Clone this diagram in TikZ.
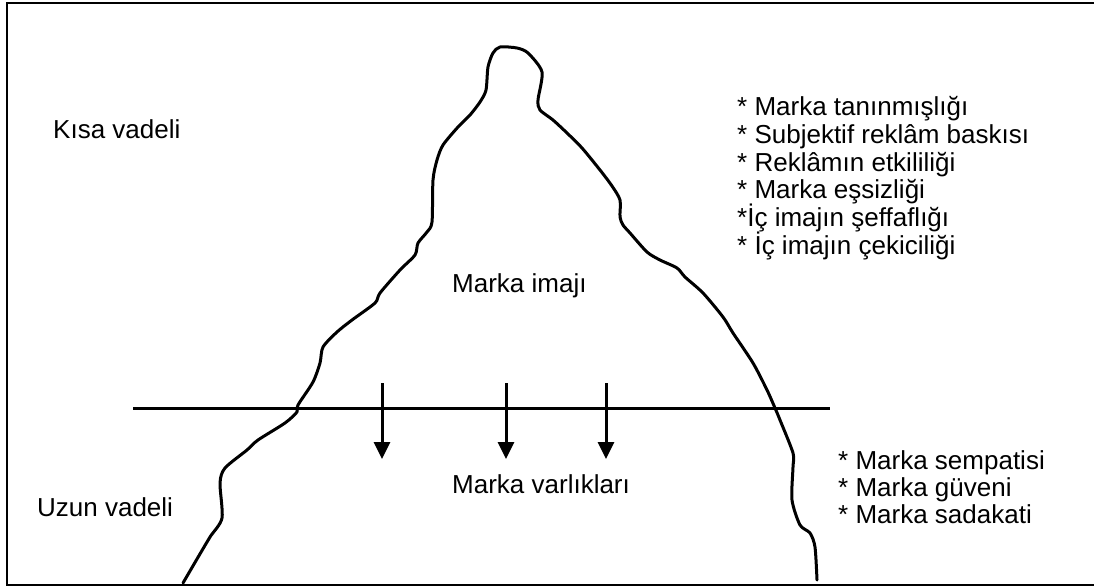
\documentclass[tikz,border=0pt]{standalone}
\usepackage{fontspec}
\setmainfont{Liberation Sans}
\usetikzlibrary{arrows.meta}
\begin{document}
\begin{tikzpicture}[x=1pt,y=-1pt,
  lbl/.style={anchor=base west,inner sep=0pt,font=\fontsize{26}{28}\selectfont},
  ice/.style={line width=3pt,line join=round,line cap=round},
  sink/.style={line width=3pt,-{Triangle[width=16pt,length=17pt]}}]
\useasboundingbox (0,0) rectangle (1094,587);
\draw[line width=2.2pt] (7,3) rectangle (1110,585);
% iceberg
\draw[ice] plot[smooth,tension=0.45] coordinates {
(183,583) (197,559) (210,537) (222,518) (220,483) (225,468) (247,450) (258,440)
(285,423) (297,412) (298,405) (313,382) (320,363) (323,347) (337,332) (352,320)
(375,303) (380,293) (400,270) (415,255) (418,243) (427,232) (432,222) (433,180)
(437,160) (443,145) (458,127) (470,115) (480,102) (486,90) (488,67) (493,53)
(500,47) (517,48) (528,53) (542,72) (538,100) (540,110) (553,120) (567,133)
(582,148) (600,170) (612,186) (620,200) (620,217) (623,225) (630,233) (647,252)
(660,260) (677,268) (685,277) (703,293) (723,317) (733,333) (753,363) (767,390)
(775,408) (780,420) (793,453) (793,467) (792,500) (800,525) (810,533) (815,547)
(817,580)};
% water line
\coordinate (wl) at (133,408);
\coordinate (wr) at (830,408);
\draw[line width=3pt] (wl) -- (wr);
% arrows
\coordinate (a1) at (382,383); \coordinate (b1) at (382,459);
\coordinate (a2) at (506,383); \coordinate (b2) at (506,459);
\coordinate (a3) at (606,383); \coordinate (b3) at (606,459);
\draw[sink] (a1) -- (b1);
\draw[sink] (a2) -- (b2);
\draw[sink] (a3) -- (b3);
% labels
\node[lbl] (kisa) at (53,138) {Kısa vadeli};
\node[lbl] (uzun) at (37,516) {Uzun vadeli};
\node[lbl] (imaj) at (452,292) {Marka imajı};
\node[lbl] (varlik) at (452,493) {Marka varlıkları};
\node[lbl] (t1) at (737,115) {* Marka tanınmışlığı};
\node[lbl] (t2) at (737,143) {* Subjektif reklâm baskısı};
\node[lbl] (t3) at (737,171) {* Reklâmın etkililiği};
\node[lbl] (t4) at (737,198) {* Marka eşsizliği};
\node[lbl] (t5) at (737,226) {*İç imajın şeffaflığı};
\node[lbl] (t6) at (737,254) {* İç imajın çekiciliği};
\node[lbl] (u1) at (838,469) {* Marka sempatisi};
\node[lbl] (u2) at (838,496) {* Marka güveni};
\node[lbl] (u3) at (838,523) {* Marka sadakati};
\end{tikzpicture}
\end{document}
